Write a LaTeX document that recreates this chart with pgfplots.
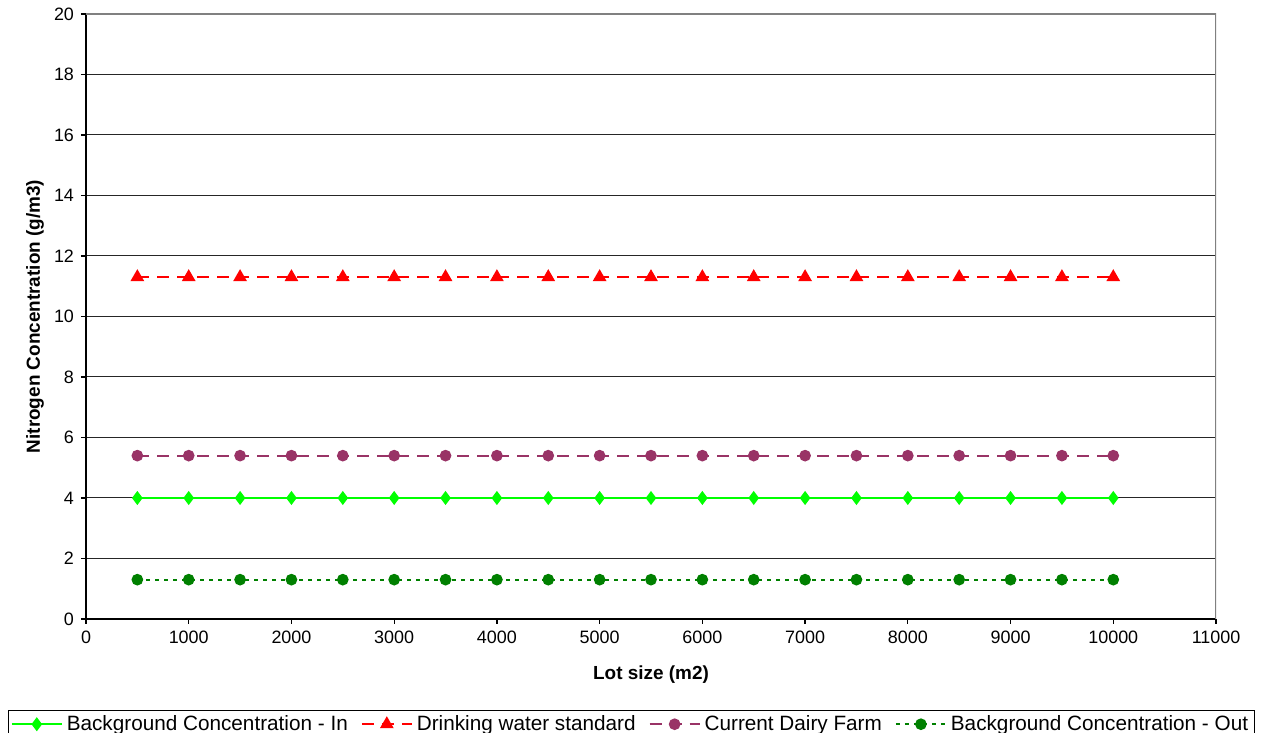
\documentclass[border=0pt]{standalone}
\usepackage{fontspec}
\setmainfont{Liberation Sans}
\usepackage{pgfplots}
\pgfplotsset{compat=1.18}

\definecolor{cIn}{HTML}{00FF00}
\definecolor{cStd}{HTML}{FF0000}
\definecolor{cDairy}{HTML}{993366}
\definecolor{cOut}{HTML}{008000}

\pgfplotstableread{
x     bgin  std   dairy  bgout
500   4.0   11.3  5.4    1.3
1000  4.0   11.3  5.4    1.3
1500  4.0   11.3  5.4    1.3
2000  4.0   11.3  5.4    1.3
2500  4.0   11.3  5.4    1.3
3000  4.0   11.3  5.4    1.3
3500  4.0   11.3  5.4    1.3
4000  4.0   11.3  5.4    1.3
4500  4.0   11.3  5.4    1.3
5000  4.0   11.3  5.4    1.3
5500  4.0   11.3  5.4    1.3
6000  4.0   11.3  5.4    1.3
6500  4.0   11.3  5.4    1.3
7000  4.0   11.3  5.4    1.3
7500  4.0   11.3  5.4    1.3
8000  4.0   11.3  5.4    1.3
8500  4.0   11.3  5.4    1.3
9000  4.0   11.3  5.4    1.3
9500  4.0   11.3  5.4    1.3
10000 4.0   11.3  5.4    1.3
}\lotdata

\begin{document}
\begin{tikzpicture}
\begin{axis}[
    scale only axis,
    width=565bp, height=302.5bp,
    xmin=0, xmax=11000,
    ymin=0, ymax=20,
    xtick={0,1000,...,11000},
    ytick={0,2,...,20},
    scaled ticks=false,
    /pgf/number format/1000 sep={},
    /pgf/number format/assume math mode=true,
    ticklabel style={font=\fontsize{9}{10}\selectfont},
    axis lines=left,
    axis line style={-, black, line width=1bp},
    tick align=outside,
    major tick length=2.5bp,
    tick style={black, line width=0.6bp},
    ymajorgrids,
    major grid style={black!85, line width=0.5bp},
    xlabel={Lot size (m2)},
    ylabel={Nitrogen Concentration (g/m3)},
    label style={font=\fontsize{9.5}{11}\bfseries\selectfont},
    xlabel style={at={(axis description cs:0.5,-0.0926)}, anchor=center},
    ylabel style={at={(axis description cs:-0.0451,0.5)}, anchor=center, rotate=0},
    legend columns=4,
    legend style={
        at={(rel axis cs:0.4827,-0.150)}, anchor=north,
        draw=black, line width=0.5bp,
        font=\fontsize{10.4}{11}\selectfont,
        inner xsep=1bp, inner ysep=0.5bp,
        /tikz/every even column/.append style={column sep=4.5bp},
    },
    legend cell align=left,
    legend image code/.code={
        \draw[mark repeat=2, mark phase=2]
            plot coordinates {(0bp,0bp) (12.5bp,0bp) (25bp,0bp)};
    },
]
\addplot[cIn, line width=1bp, mark=diamond*, mark size=2.7bp,
    mark options={solid, fill=cIn}] table[x=x, y=bgin] {\lotdata};
\addlegendentry{Background Concentration - In}
\addplot[cStd, line width=1bp, dash pattern=on 6bp off 4bp, mark=triangle*,
    mark size=3bp, mark options={solid, fill=cStd}] table[x=x, y=std] {\lotdata};
\addlegendentry{Drinking water standard}
\addplot[cDairy, line width=1bp, dash pattern=on 6bp off 4bp, mark=*,
    mark size=2.4bp, mark options={solid, fill=cDairy}] table[x=x, y=dairy] {\lotdata};
\addlegendentry{Current Dairy Farm}
\addplot[cOut, line width=1bp, dash pattern=on 2bp off 2.5bp, mark=*,
    mark size=2.4bp, mark options={solid, fill=cOut}] table[x=x, y=bgout] {\lotdata};
\addlegendentry{Background Concentration - Out}

\draw[gray, line width=1bp] (rel axis cs:0,1) -- (rel axis cs:1,1) -- (rel axis cs:1,0);
\coordinate (bbA) at (rel axis cs:-0.0761,-0.1884);
\coordinate (bbB) at (rel axis cs:1.0407,1.0231);
\end{axis}
\pgfresetboundingbox
\useasboundingbox (bbA) rectangle (bbB);
\end{tikzpicture}
\end{document}
